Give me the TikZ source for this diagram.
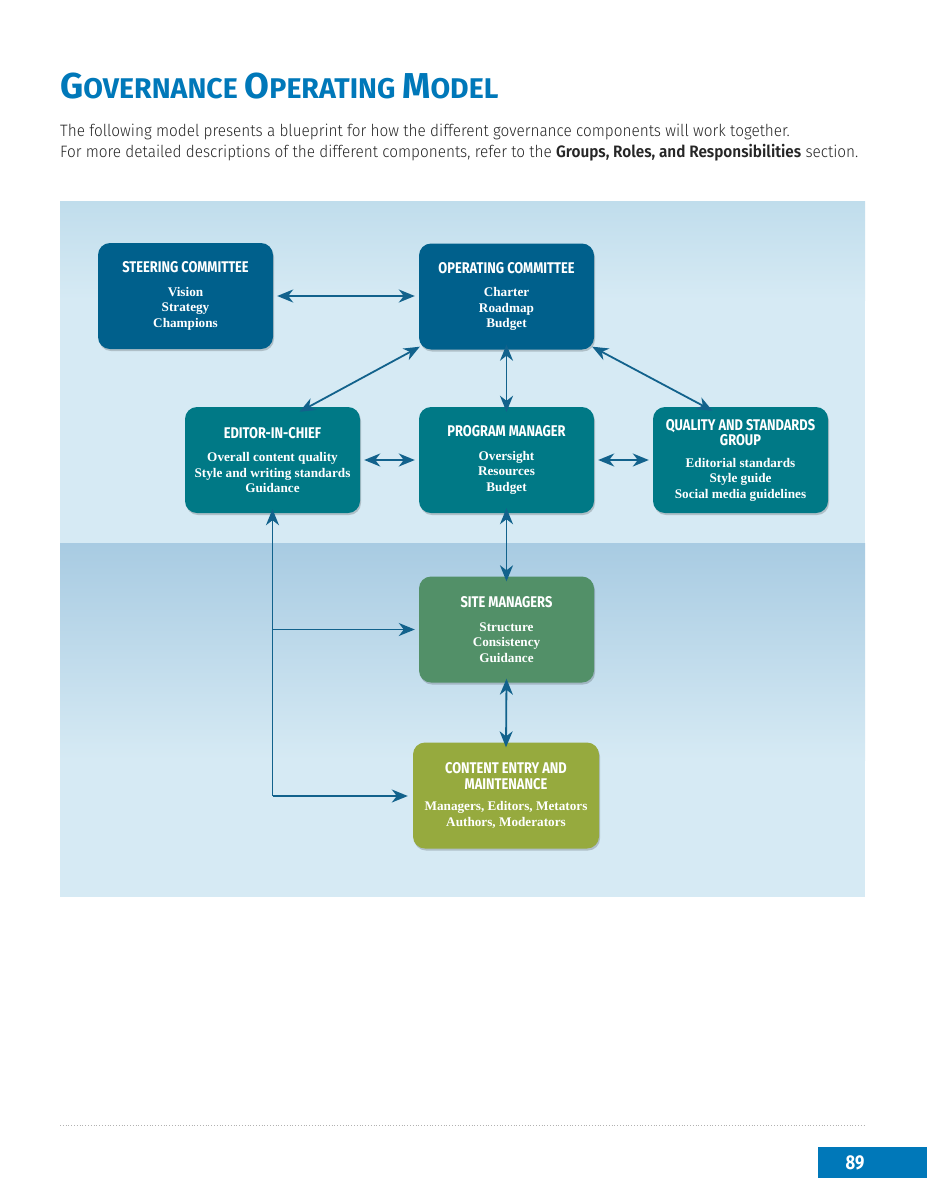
\documentclass[tikz,border=0pt]{standalone}
\usepackage{fontspec}
\setmainfont{Liberation Serif}
\newfontfamily\headfont[FakeStretch=0.83]{Fira Sans}
\newfontfamily\titlefont{Fira Sans}
\newfontfamily\bodyfont[FakeStretch=0.93]{Fira Sans Light}
\usetikzlibrary{arrows.meta,shadows}

\definecolor{pageblue}{RGB}{0,120,185}
\definecolor{topband}{RGB}{192,221,236}
\definecolor{midband}{RGB}{214,234,244}
\definecolor{lowband}{RGB}{168,203,226}
\definecolor{darkbox}{RGB}{0,96,140}
\definecolor{tealbox}{RGB}{0,121,134}
\definecolor{greenbox}{RGB}{82,144,104}
\definecolor{olivebox}{RGB}{150,170,62}
\definecolor{linkblue}{RGB}{18,98,140}

\tikzset{
  unitbox/.style={rounded corners=12pt, minimum width=175pt, minimum height=106pt,
    inner sep=0pt, align=center, text=white, draw=none,
    font=\fontsize{13.2}{15.5}\selectfont\bfseries,
    drop shadow={shadow xshift=1pt, shadow yshift=-2pt, opacity=0.18, fill=black}},
  darkunit/.style={unitbox, fill=darkbox},
  tealunit/.style={unitbox, fill=tealbox},
  greenunit/.style={unitbox, fill=greenbox},
  oliveunit/.style={unitbox, fill=olivebox, minimum width=186pt},
  link/.style={linkblue, line width=1.8pt, {Stealth[length=16pt,width=13pt,inset=5pt]}-{Stealth[length=16pt,width=13pt,inset=5pt]}},
  oneway/.style={linkblue, line width=1.8pt, -{Stealth[length=16pt,width=13pt,inset=5pt]}}
}
\newcommand{\headsize}{\headfont\fontsize{15.5}{16}\selectfont}
\newcommand{\unithead}[1]{{\headsize #1}\\[8pt]}
\newcommand{\unitheadtwo}[2]{{\headsize #1}\\{\headsize #2}\\[6pt]}

\begin{document}
\begin{tikzpicture}[x=1pt,y=-1pt]
  \useasboundingbox[fill=white] (0,0) rectangle (927,1200);

  % Title and intro
  \node[anchor=base west, inner sep=0pt, text=pageblue] (title) at (60,98)
    {\titlefont\bfseries\fontsize{36}{36}\selectfont G\fontsize{28.5}{28.5}\selectfont OVERNANCE
     \fontsize{36}{36}\selectfont O\fontsize{28.5}{28.5}\selectfont PERATING
     \fontsize{36}{36}\selectfont M\fontsize{28.5}{28.5}\selectfont ODEL};
  \node[anchor=base west, inner sep=0pt, text=black!85, align=left,
    font=\bodyfont\fontsize{16.5}{21}\selectfont] (intro) at (60,157)
    {The following model presents a blueprint for how the different governance components will work together.\\
     For more detailed descriptions of the different components, refer to the {\bfseries Groups, Roles, and Responsibilities} section.};

  % Panel background
  \shade[top color=topband, bottom color=midband] (60,201) rectangle (865,300);
  \fill[midband] (60,300) rectangle (865,543);
  \shade[top color=lowband, bottom color=midband] (60,543) rectangle (865,760);
  \fill[midband] (60,760) rectangle (865,897);

  % Units
  \node[darkunit] (steering) at (185.5,296)
    {\unithead{STEERING COMMITTEE}Vision\\Strategy\\Champions};
  \node[darkunit] (operating) at (506.5,296.5)
    {\unithead{OPERATING COMMITTEE}Charter\\Roadmap\\Budget};
  \node[tealunit] (editor) at (272.5,460)
    {\unithead{EDITOR-IN-CHIEF}Overall content quality\\Style and writing standards\\Guidance};
  \node[tealunit] (program) at (506.5,460)
    {\unithead{PROGRAM MANAGER}Oversight\\Resources\\Budget};
  \node[tealunit] (quality) at (740.5,460)
    {\unitheadtwo{QUALITY AND STANDARDS}{GROUP}Editorial standards\\Style guide\\Social media guidelines};
  \node[greenunit] (site) at (506.5,629.5)
    {\unithead{SITE MANAGERS}Structure\\Consistency\\Guidance};
  \node[oliveunit] (content) at (506,795.5)
    {\unitheadtwo{CONTENT ENTRY AND}{MAINTENANCE}Managers, Editors, Metators\\Authors, Moderators};

  % Connectors
  \draw[link] ([xshift=4pt]steering.east) -- ([xshift=-4pt]steering.east -| operating.west);
  \draw[link] ([xshift=1pt,yshift=3pt]operating.south west) -- ([xshift=27pt,yshift=-5pt]editor.north);
  \draw[link] ([xshift=-2pt,yshift=3pt]operating.south east) -- ([xshift=-28pt,yshift=-4pt]quality.north);
  \draw[link] ([yshift=5pt]operating.south) -- ([yshift=-5pt]program.north);
  \draw[link] ([xshift=4pt]editor.east) -- ([xshift=-4pt]program.west);
  \draw[link] ([xshift=4pt]program.east) -- ([xshift=-4pt]program.east -| quality.west);
  \draw[link] ([yshift=5pt]program.south) -- ([yshift=-5pt]site.north);
  \draw[link] ([yshift=4pt]site.south) -- ([yshift=-5pt]content.north);

  \coordinate (corner) at (272.5,796);
  \draw[oneway] (corner) -- ([yshift=4pt]editor.south);
  \draw[oneway] (corner |- site.west) -- ([xshift=-4pt]site.west);
  \draw[oneway] (corner) -- ([xshift=-5pt]corner -| content.west);

  % Footer
  \draw[gray!60, line width=0.8pt, dotted] (60,1125) -- (865,1125);
  \fill[pageblue] (818,1147) rectangle (927,1178);
  \node[text=white, inner sep=0pt, font=\headfont\bfseries\fontsize{20}{20}\selectfont] (pagenum) at (855,1163) {89};
\end{tikzpicture}
\end{document}
